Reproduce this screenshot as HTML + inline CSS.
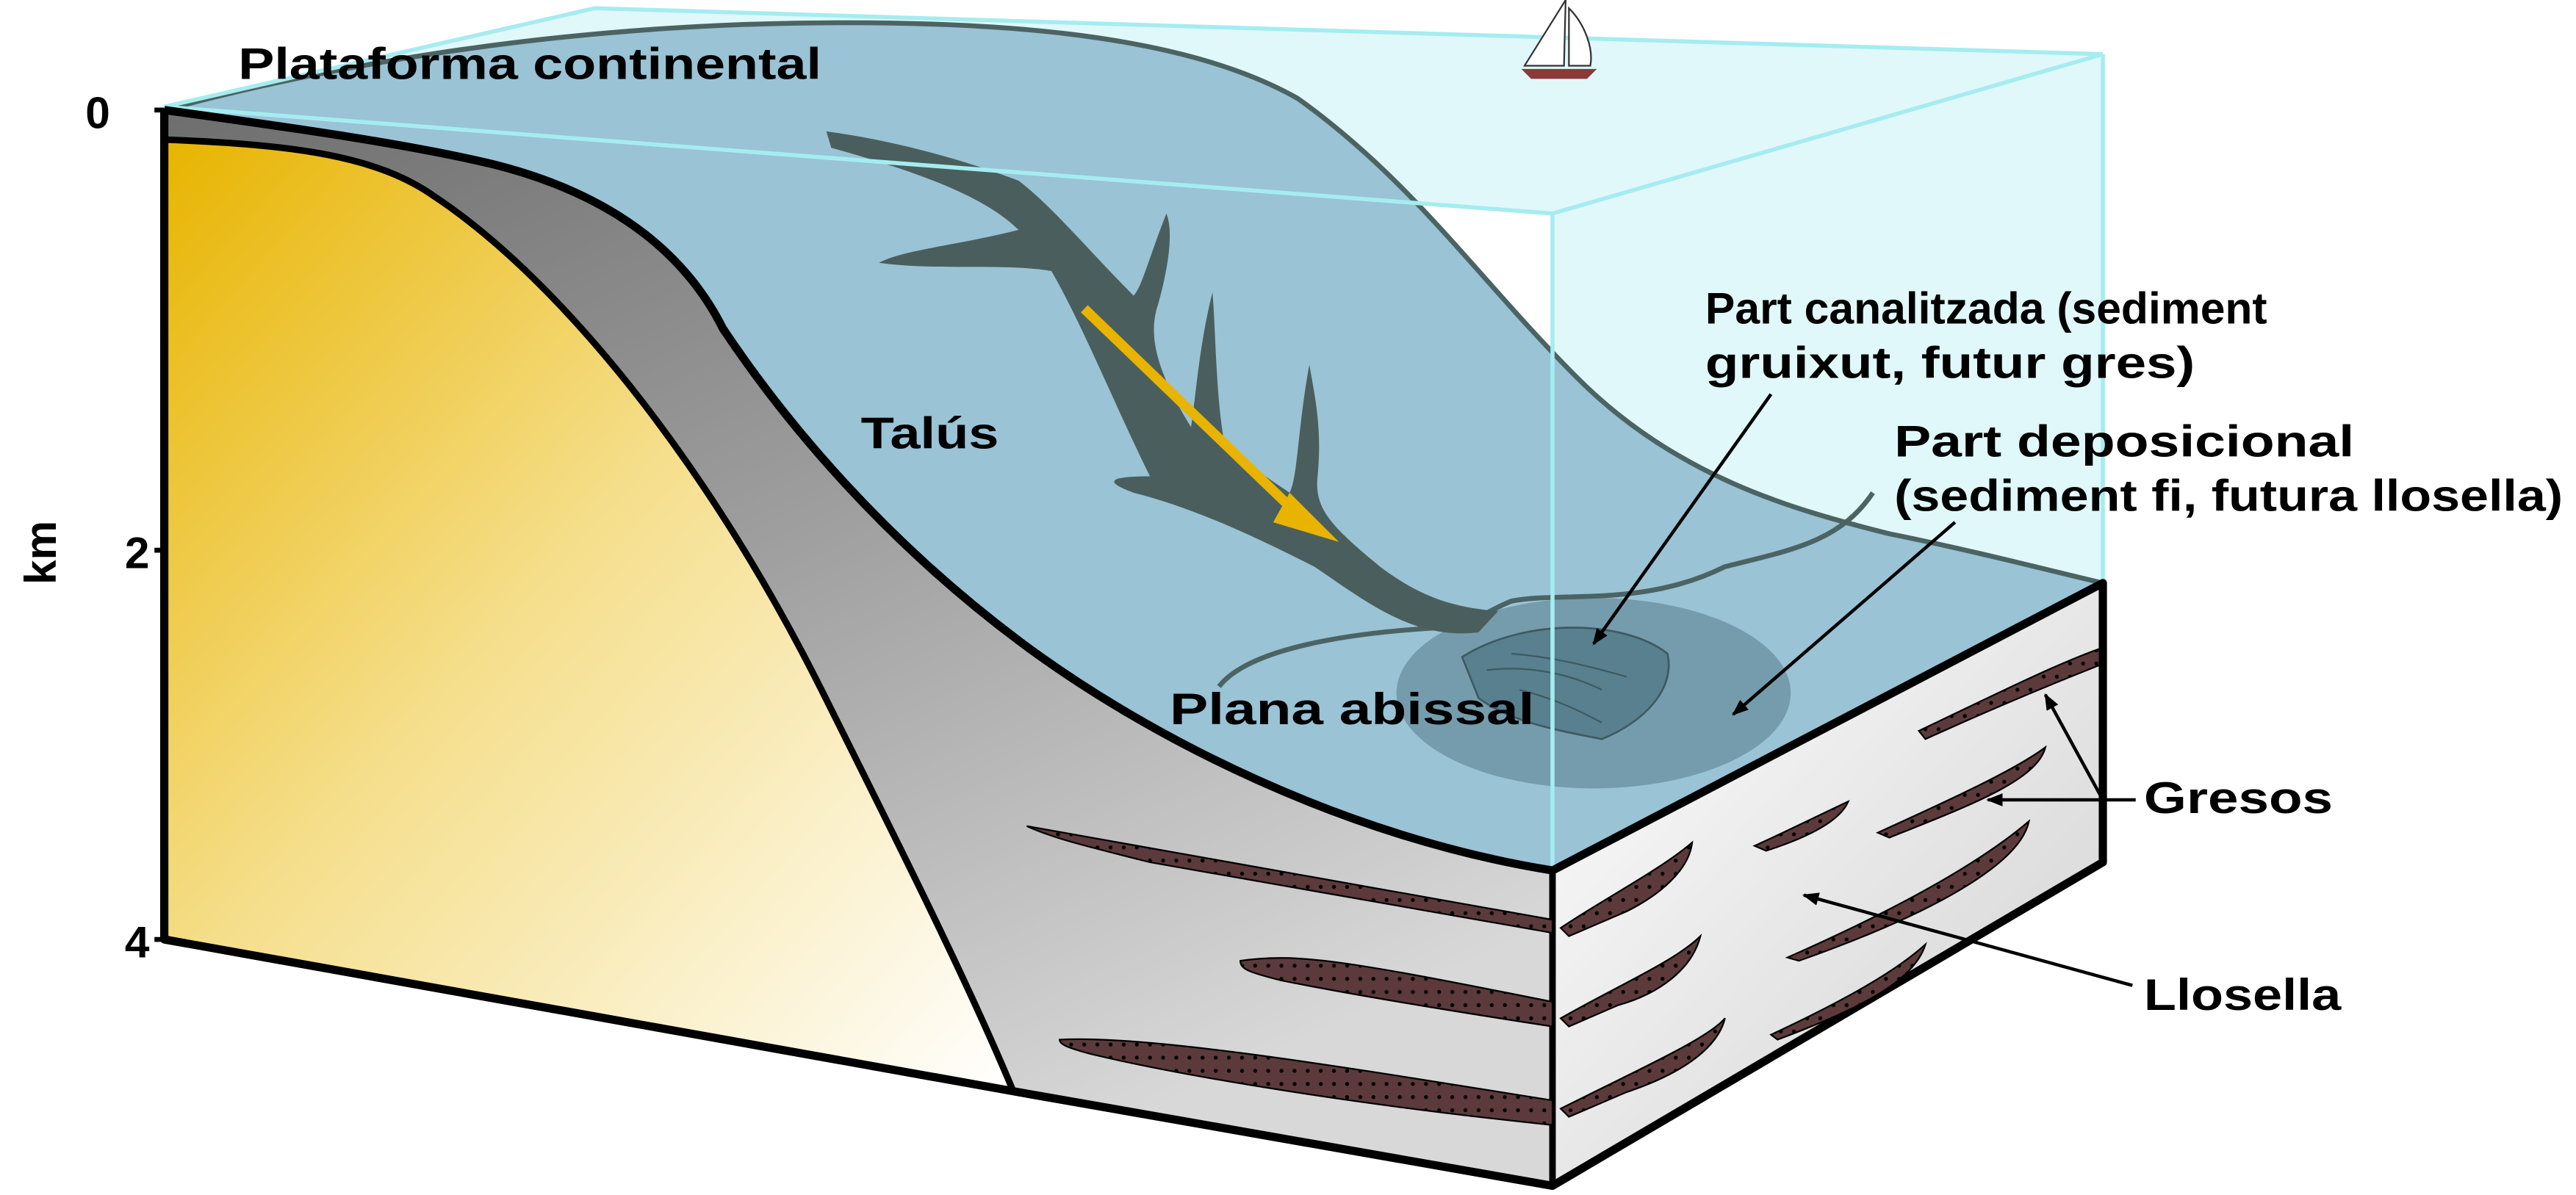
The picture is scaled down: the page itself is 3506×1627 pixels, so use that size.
<!DOCTYPE html>
<html><head><meta charset="utf-8"><style>
html,body{margin:0;padding:0;background:#fff;}
svg{display:block}
text{font-family:"Liberation Sans",Arial,sans-serif;font-weight:bold;fill:#000}
</style></head><body>
<svg width="3506" height="1627" viewBox="0 0 1568 727.6" preserveAspectRatio="none" xmlns="http://www.w3.org/2000/svg">
<defs>
<linearGradient id="yel" x1="0" y1="0" x2="1" y2="1">
<stop offset="0" stop-color="#e8b400"/><stop offset="0.45" stop-color="#f5de8a"/><stop offset="1" stop-color="#ffffff"/></linearGradient>
<linearGradient id="gry" x1="0" y1="0" x2="0.6" y2="1">
<stop offset="0" stop-color="#6e6e6e"/><stop offset="0.5" stop-color="#a0a0a0"/><stop offset="1" stop-color="#d8d8d8"/></linearGradient>
<linearGradient id="rf" x1="0" y1="0" x2="1" y2="1">
<stop offset="0" stop-color="#ffffff"/><stop offset="1" stop-color="#d0d0d0"/></linearGradient>
<pattern id="dots" width="8" height="8" patternUnits="userSpaceOnUse"><rect width="8" height="8" fill="#5c3a3c"/><circle cx="4" cy="4" r="1.2" fill="#000"/></pattern>
<marker id="ah" markerWidth="10" markerHeight="8" refX="9" refY="4" orient="auto" markerUnits="userSpaceOnUse"><path d="M0,0 L10,4 L0,8 Z" fill="#000"/></marker>
</defs>

<path d="M100,65 L362,5 L1280,33 L1280,355 L945,530 L945,130 Z" fill="#e0f8fa"/>

<!-- gray layer -->
<path d="M100,67 C180,78 250,88 300,100 C380,120 420,160 440,200 C480,260 540,330 620,390 C700,450 820,510 945,530 L945,722 L617,665 C590,600 550,520 500,420 C430,280 340,170 265,120 C230,95 180,88 100,85 Z" fill="url(#gry)"/>
<!-- yellow block -->
<path d="M100,85 C180,88 230,95 265,120 C340,170 430,280 500,420 C550,520 590,600 617,665 L100,572 Z" fill="url(#yel)"/>
<path d="M100,85 C180,88 230,95 265,120 C340,170 430,280 500,420 C550,520 590,600 617,665" fill="none" stroke="#000" stroke-width="4"/>
<path d="M945,530 L1280,355 L1280,525 L945,722 Z" fill="url(#rf)"/>

<path d="M100,67 C200,40 320,20 450,15 C600,10 720,20 790,60 C860,110 900,170 960,230 C1020,290 1090,310 1150,325 C1200,335 1250,348 1280,355 L945,530 C820,510 700,450 620,390 C540,330 480,260 440,200 C420,160 380,120 300,100 C250,88 180,78 100,67 Z" fill="#9ac3d5"/>
<path d="M100,67 C200,40 320,20 450,15 C600,10 720,20 790,60 C860,110 900,170 960,230 C1020,290 1090,310 1150,325 C1200,335 1250,348 1280,355" fill="none" stroke="#4b6463" stroke-width="3"/>

<ellipse cx="970" cy="422" rx="120" ry="58" fill="#6f95a6" opacity="0.85"/>
<path d="M890,400 C930,375 990,378 1015,398 C1020,420 1000,440 975,450 C950,445 920,440 900,425 Z" fill="#58808f" stroke="#3e5a60" stroke-width="1.2"/>
<path d="M905,408 C930,405 955,410 975,420 M920,398 C945,400 965,405 990,412 M925,420 C945,425 960,432 975,440" stroke="#3e5a60" stroke-width="1" fill="none"/>

<path d="M742,418 C760,395 820,385 880,382 C900,378 905,372 920,366 C950,360 1000,370 1050,345 C1090,335 1120,330 1140,300" fill="none" stroke="#4b6463" stroke-width="3"/>

<path d="M503,80 L506,90 C560,105 600,120 620,140 C580,150 550,152 535,160 C570,165 610,160 640,165 C660,200 680,250 700,290 C680,290 668,292 690,300 C730,310 770,330 800,345 C830,365 860,390 900,385 L912,372 C880,370 860,360 840,345 C810,320 800,310 802,290 C805,260 800,240 797,222 C790,260 790,290 785,300 C770,290 755,280 745,268 C740,240 740,200 738,178 C730,210 728,240 725,260 C700,220 700,200 705,185 C712,160 714,140 710,130 C700,155 695,175 690,180 C665,155 640,125 620,110 C580,95 540,85 503,80 Z" fill="#4a5f5d"/>

<line x1="660" y1="188" x2="795" y2="318" stroke="#e8b400" stroke-width="6"/>
<path d="M785,300 L815,330 L775,318 Z" fill="#e8b400"/>

<path d="M100,65 L945,130 L1280,33 M945,130 L945,530 M1280,33 L1280,355 M100,65 L362,5 L1280,33" fill="none" stroke="#a5ecf0" stroke-width="2.5"/>

<path d="M100,67 C180,78 250,88 300,100 C380,120 420,160 440,200 C480,260 540,330 620,390 C700,450 820,510 945,530 L1280,355 L1280,525 L945,722 L620,665 L100,572 L100,67" fill="none" stroke="#000" stroke-width="5" stroke-linejoin="round"/>
<path d="M945,530 L945,722" stroke="#000" stroke-width="4"/>
<path d="M100,67 L100,572" stroke="#000" stroke-width="3"/>
<path d="M94,67 L100,67 M94,335 L100,335 M94,572 L100,572" stroke="#000" stroke-width="3"/>

<path d="M625,503 L945,560 L945,568 L700,525 C660,515 640,510 625,503 Z" fill="url(#dots)" stroke="#000" stroke-width="1"/>
<path d="M755,585 C790,580 820,585 945,610 L945,625 C880,615 820,605 780,597 C760,592 755,590 755,585 Z" fill="url(#dots)" stroke="#000" stroke-width="1"/>
<path d="M645,633 C700,630 820,650 945,670 L945,685 C820,672 720,655 665,642 C650,638 645,636 645,633 Z" fill="url(#dots)" stroke="#000" stroke-width="1"/>
<path d="M950,565 C975,548 1010,530 1030,513 C1028,530 1010,545 990,555 L955,570 Z" fill="url(#dots)" stroke="#000" stroke-width="1"/>
<path d="M950,620 C985,600 1020,585 1035,570 C1030,590 1010,605 985,612 L955,625 Z" fill="url(#dots)" stroke="#000" stroke-width="1"/>
<path d="M950,675 C1000,650 1040,632 1050,620 C1045,640 1020,655 990,665 L955,680 Z" fill="url(#dots)" stroke="#000" stroke-width="1"/>
<path d="M1068,515 C1090,505 1110,495 1125,488 C1120,500 1100,510 1075,518 Z" fill="url(#dots)" stroke="#000" stroke-width="1"/>
<path d="M1143,507 C1180,490 1225,470 1245,455 C1240,475 1200,490 1150,510 Z" fill="url(#dots)" stroke="#000" stroke-width="1"/>
<path d="M1168,445 C1210,425 1250,405 1278,395 L1278,405 C1240,420 1205,435 1172,450 Z" fill="url(#dots)" stroke="#000" stroke-width="1"/>
<path d="M1088,583 C1140,560 1200,530 1235,500 C1230,525 1180,555 1095,585 Z" fill="url(#dots)" stroke="#000" stroke-width="1"/>
<path d="M1078,630 C1110,615 1150,595 1172,575 C1165,598 1130,615 1082,633 Z" fill="url(#dots)" stroke="#000" stroke-width="1"/>

<path d="M953,0 L952,40 L928,40 Z" fill="#fff" stroke="#333" stroke-width="1"/>
<path d="M955,5 C965,15 970,30 968,40 L955,40 Z" fill="#fff" stroke="#333" stroke-width="1"/>
<path d="M926,42 L972,42 L966,48 L932,48 Z" fill="#8b3a3a"/>

<g font-size="27">
<text x="145" y="48" textLength="355" lengthAdjust="spacingAndGlyphs">Plataforma continental</text>
<text x="524" y="273" textLength="84" lengthAdjust="spacingAndGlyphs">Talús</text>
<text x="712" y="441" textLength="222" lengthAdjust="spacingAndGlyphs">Plana abissal</text>
<text x="1038" y="197" textLength="342" lengthAdjust="spacingAndGlyphs">Part canalitzada (sediment</text>
<text x="1038" y="230" textLength="298" lengthAdjust="spacingAndGlyphs">gruixut, futur gres)</text>
<text x="1153" y="278" textLength="280" lengthAdjust="spacingAndGlyphs">Part deposicional</text>
<text x="1153" y="311" textLength="407" lengthAdjust="spacingAndGlyphs">(sediment fi, futura llosella)</text>
<text x="1305" y="495" textLength="115" lengthAdjust="spacingAndGlyphs">Gresos</text>
<text x="1305" y="615" textLength="120" lengthAdjust="spacingAndGlyphs">Llosella</text>
<text x="52" y="78">0</text>
<text x="76" y="346">2</text>
<text x="76" y="583">4</text>
<text transform="translate(34,356) rotate(-90)">km</text>
</g>

<line x1="1078" y1="240" x2="970" y2="392" stroke="#000" stroke-width="2" marker-end="url(#ah)"/>
<line x1="1190" y1="318" x2="1055" y2="435" stroke="#000" stroke-width="2" marker-end="url(#ah)"/>
<path d="M1300,487 L1280,487 L1245,423" fill="none" stroke="#000" stroke-width="2" marker-end="url(#ah)"/>
<line x1="1280" y1="487" x2="1210" y2="487" stroke="#000" stroke-width="2" marker-end="url(#ah)"/>
<line x1="1298" y1="600" x2="1098" y2="545" stroke="#000" stroke-width="2" marker-end="url(#ah)"/>
</svg>
</body></html>
